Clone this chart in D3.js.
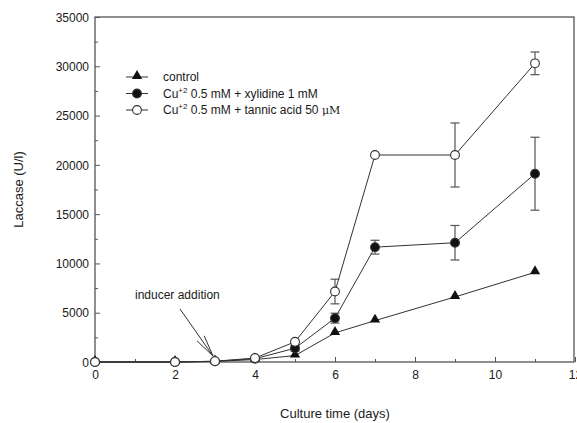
<!DOCTYPE html>
<html>
<head>
<meta charset="utf-8">
<script src="https://cdn.jsdelivr.net/npm/d3@7"></script>
<style>
    body { margin: 0; background: #fff; }
    text { font-family: "Liberation Sans", Arial, sans-serif; fill: #1a1a1a; }
    .frame { fill: none; stroke: #555; stroke-width: 1.3; }
    .tick line { stroke: #555; }
    .series { fill: none; stroke: #333; stroke-width: 1; }
    .err { stroke: #555; stroke-width: 1.2; }
</style>
</head>
<body>
<div id="main"></div>
<script>
const ctx = {
    SVG_W: 577,
    SVG_H: 423,
};

// culture time (days)
const days = [0, 2, 3, 4, 5, 6, 7, 9, 11];

// laccase activity (U/l)
const control = [0, 0, 60, 250, 650, 2950, 4200, 6600, 9100];
const xylidine = [0, 0, 70, 330, 1400, 4450, 11650, 12100, 19100];
const xylidineErr = [0, 0, 0, 0, 300, 500, 700, 1750, 3700];
const tannic = [0, 0, 80, 400, 2050, 7150, 21000, 21000, 30300];
const tannicErr = [0, 0, 0, 0, 0, 1250, 0, 3250, 1150];

const seriesList = [
    { name: "control", values: control, errs: null, marker: "triangle" },
    { name: "xylidine", values: xylidine, errs: xylidineErr, marker: "filled" },
    { name: "tannic", values: tannic, errs: tannicErr, marker: "open" },
];

function drawMarker(g, type, x, y) {
    if (type === "triangle") {
        g.append("path")
            .attr("d", d3.symbol(d3.symbolTriangle, 46)())
            .attr("transform", "translate(" + x + "," + (y - 1) + ")")
            .attr("fill", "#111");
    } else {
        g.append("circle")
            .attr("cx", x).attr("cy", y).attr("r", 4.4)
            .attr("fill", type === "filled" ? "#111" : "#fff")
            .attr("stroke", "#333").attr("stroke-width", 1.1);
    }
}

function createChart(svgEl) {
    const x = d3.scaleLinear().domain([0, 12]).range([95, 575]);
    const y = d3.scaleLinear().domain([0, 35000]).range([362, 17]);

    // minor + major ticks, drawn inward
    const xAxis = svgEl.append("g")
        .attr("transform", "translate(0," + y(0) + ")")
        .call(d3.axisBottom(x).tickValues(d3.range(0, 13, 1)).tickSize(-3).tickFormat(""));
    xAxis.select(".domain").remove();
    xAxis.selectAll(".tick").filter(d => d % 2 === 0).select("line").attr("y2", -5);
    xAxis.selectAll(".tick").filter(d => d % 2 === 0).append("text")
        .attr("y", 17).attr("text-anchor", "middle").attr("font-size", 12)
        .text(d => d);

    const yAxis = svgEl.append("g")
        .attr("transform", "translate(" + x(0) + ",0)")
        .call(d3.axisLeft(y).tickValues(d3.range(0, 35001, 2500)).tickSize(-3).tickFormat(""));
    yAxis.select(".domain").remove();
    yAxis.selectAll(".tick").filter(d => d % 5000 === 0).select("line").attr("x2", 5);
    yAxis.selectAll(".tick").filter(d => d % 5000 === 0).append("text")
        .attr("x", -6).attr("dy", "0.35em").attr("text-anchor", "end").attr("font-size", 12)
        .text(d => d);

    svgEl.append("rect").attr("class", "frame")
        .attr("x", x(0)).attr("y", y(35000))
        .attr("width", x(12) - x(0) - 1).attr("height", y(0) - y(35000));

    // series lines
    const line = d3.line().x((d, i) => x(days[i])).y(d => y(d));
    seriesList.forEach(s => {
        svgEl.append("path").attr("class", "series").attr("d", line(s.values));
    });

    // error bars
    seriesList.forEach(s => {
        if (!s.errs) return;
        const g = svgEl.append("g");
        s.values.forEach((v, i) => {
            const e = s.errs[i];
            if (!e) return;
            const cx = x(days[i]);
            g.append("line").attr("class", "err").attr("x1", cx).attr("x2", cx).attr("y1", y(v - e)).attr("y2", y(v + e));
            [v - e, v + e].forEach(w => {
                g.append("line").attr("class", "err").attr("x1", cx - 4.5).attr("x2", cx + 4.5).attr("y1", y(w)).attr("y2", y(w));
            });
        });
    });

    // markers
    seriesList.forEach(s => {
        const g = svgEl.append("g");
        s.values.forEach((v, i) => drawMarker(g, s.marker, x(days[i]), y(v)));
    });

    // legend
    const legend = svgEl.append("g");
    const rows = [
        { marker: "triangle", label: ["control"] },
        { marker: "filled", label: ["Cu", "+2", " 0.5 mM + xylidine 1 mM"] },
        { marker: "open", label: ["Cu", "+2", " 0.5 mM + tannic acid 50 ", "\u03bcM"] },
    ];
    rows.forEach((r, i) => {
        const ly = 77 + i * 16.5;
        legend.append("line").attr("x1", 126).attr("x2", 148).attr("y1", ly).attr("y2", ly)
            .attr("stroke", "#333").attr("stroke-width", 1);
        drawMarker(legend, r.marker, 137, ly);
        const t = legend.append("text").attr("x", 163).attr("y", ly + 4).attr("font-size", 12);
        if (r.label.length === 1) {
            t.text(r.label[0]);
        } else {
            t.append("tspan").text(r.label[0]);
            t.append("tspan").attr("dy", -5).attr("font-size", 8).text(r.label[1]);
            t.append("tspan").attr("dy", 5).text(r.label[2]);
            if (r.label[3]) t.append("tspan").attr("font-family", "DejaVu Serif, serif").attr("font-size", 11).text(r.label[3]);
        }
    });

    // annotation: text and open arrow pointing at day 3
    svgEl.append("text").attr("x", 135).attr("y", 299).attr("font-size", 12).text("inducer addition");
    const sx = 180, sy = 309;
    const tipX = x(3) - 2, tipY = y(0) - 6;
    svgEl.append("line").attr("x1", sx).attr("y1", sy).attr("x2", tipX).attr("y2", tipY)
        .attr("stroke", "#333").attr("stroke-width", 1);
    const ang = Math.atan2(sy - tipY, sx - tipX);
    const wing = 22, spread = 0.2;
    const w1 = [tipX + wing * Math.cos(ang - spread), tipY + wing * Math.sin(ang - spread)];
    const w2 = [tipX + wing * Math.cos(ang + spread), tipY + wing * Math.sin(ang + spread)];
    svgEl.append("path")
        .attr("d", "M" + w1[0] + "," + w1[1] + " L" + tipX + "," + tipY + " L" + w2[0] + "," + w2[1])
        .attr("fill", "none").attr("stroke", "#333").attr("stroke-width", 1);

    // axis titles
    svgEl.append("text").attr("x", (x(0) + x(12)) / 2).attr("y", 418)
        .attr("text-anchor", "middle").attr("font-size", 13).text("Culture time (days)");
    svgEl.append("text").attr("transform", "translate(23," + (y(17500)) + ") rotate(-90)")
        .attr("text-anchor", "middle").attr("font-size", 13).text("Laccase (U/l)");
}

function createViz() {
    let svgEl = d3.select("#main").append("svg");
    svgEl.attr("width", ctx.SVG_W);
    svgEl.attr("height", ctx.SVG_H);
    createChart(svgEl);
}
createViz();
</script>
</body>
</html>
